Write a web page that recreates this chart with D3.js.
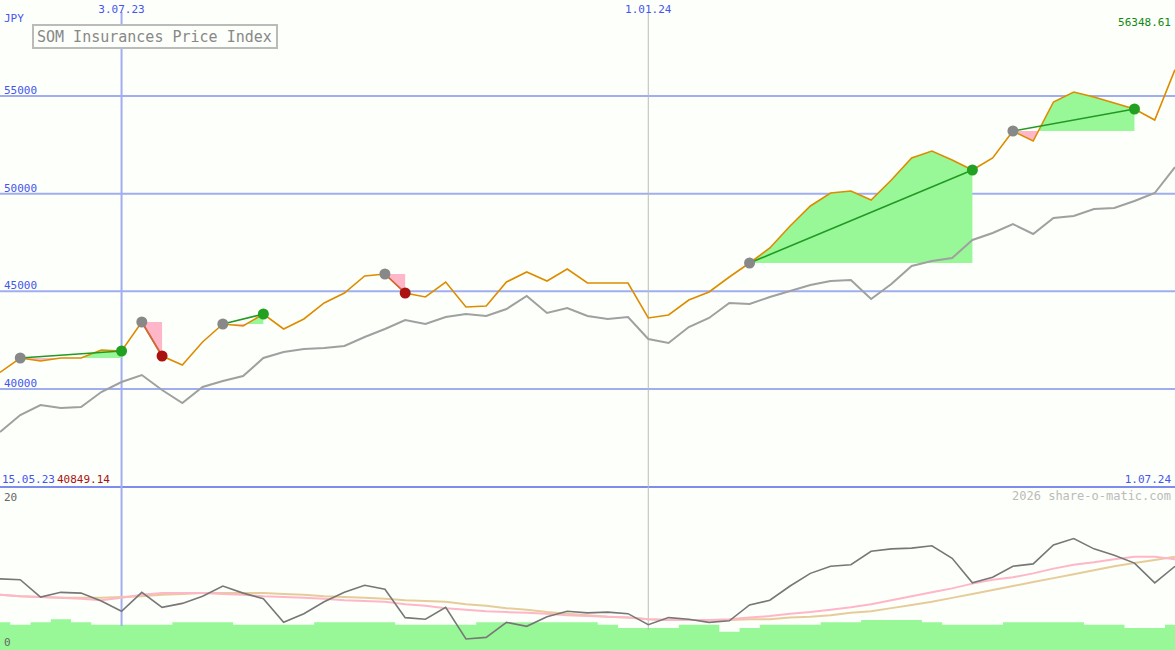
<!DOCTYPE html>
<html><head><meta charset="utf-8">
<script src="https://cdn.jsdelivr.net/npm/d3@7"></script>
<style>body{margin:0;background:#fdfffa}svg{display:block}text{font-family:"DejaVu Sans Mono",monospace}</style>
</head><body><svg id="c" width="1175" height="650"></svg>
<script>
const priceY=[372,358,361,358,358,350,351,322,356,365,342,324,326,314,329,319,303,293,276,274,293,297,282,307,306,282,272,281,269,283,283,283,318,315,300,292,277,263,248,226,206,193,191,200,180,158,151,160,170,158,131,141,102,92,97,103,109,120,72];
const avgY=[432,415,405,408,407,392,382,375,390,403,387,381,376,358,352,349,348,346,337,329,320,324,317,314,316,309,296,313,308,316,319,317,339,343,327,318,303,304,297,291,285,281,280,299,284,266,261,258,240,233,224,234,218,216,209,208,201,193,167];
const toV=y=>Math.round(55000-(y-96)*15000/293);
const price=priceY.map(toV); price[0]=40849.14; price[58]=56348.61;
const avg=avgY.map(toV);
const oscY=[579,580,597,592,593,601,611,592,607,603,596,586,593,599,622,614,602,592,585,589,618,619,607,639,637,622,626,617,611,613,612,614,625,618,619,622,621,605,600,586,573,566,565,551,549,548,546,558,583,577,566,564,545,539,549,555,563,583,566];
const pinkY=[595,596,597,598,599,600,598,595,593,593,593,594,595,596,597,598,599,600,601,602,604,606,608,610,611,612,613,614,615,616,617,618,619,620,620,620,619,618,616,614,612,610,607,604,600,596,592,588,584,580,577,573,569,565,562,559,557,557,559];
const tanY=[595,596,597,598,598,598,597,596,595,594,593,593,593,593,594,595,596,597,598,599,600,601,602,604,606,608,610,612,614,615,617,618,619,620,620,620,620,619,619,618,617,615,613,611,608,605,602,598,594,590,586,582,578,574,570,566,563,560,557];
const volY=[622,625,622,619,622,625,625,625,625,622,622,622,625,625,625,625,622,622,622,622,625,625,625,625,622,622,622,622,622,622,625,628,628,628,625,625,632,628,625,625,625,622,622,620,620,620,622,625,625,625,622,622,622,622,625,625,628,628,625,625];
const toO=y=>+((650-y)/7.9).toFixed(1);
const osc=oscY.map(toO), oscFast=pinkY.map(toO), oscSlow=tanY.map(toO), vol=volY.map(toO);
const trades=[[1,6],[7,8],[11,13],[19,20],[37,48],[50,56]];
const xLabels=[{i:6,t:"3.07.23"},{i:32,t:"1.01.24"}];
const yTicks=[40000,45000,50000,55000];

const svg=d3.select("#c");
const x=d3.scaleLinear().domain([0,58]).range([0,1175]);
const y=d3.scaleLinear().domain([40000,55000]).range([389,96]);
const yo=d3.scaleLinear().domain([0,20]).range([650,492]);
svg.append("rect").attr("width",1175).attr("height",650).attr("fill","#fdfffa");
svg.append("path").datum(vol).attr("fill","#98f898")
 .attr("d",d3.area().curve(d3.curveStepAfter).x((d,i)=>x(i)-10).y0(650).y1(d=>yo(d)));
yTicks.forEach(v=>svg.append("line").attr("x1",0).attr("x2",1175).attr("y1",y(v)).attr("y2",y(v)).attr("stroke","#a0aef0").attr("stroke-width",2));
svg.append("line").attr("x1",0).attr("x2",1175).attr("y1",487).attr("y2",487).attr("stroke","#7f8cee").attr("stroke-width",2);
svg.append("line").attr("x1",x(6)).attr("x2",x(6)).attr("y1",12).attr("y2",626).attr("stroke","#a0aef0").attr("stroke-width",2);
svg.append("line").attr("x1",x(32)).attr("x2",x(32)).attr("y1",12).attr("y2",630).attr("stroke","#bbbbbb").attr("stroke-width",1);
const defs=svg.append("defs");
trades.forEach(([a,b],k)=>{
  const e=price[a], seg=d3.range(a,b+1);
  const ar=d3.area().x(i=>x(i)).y0(y(e)).y1(i=>y(price[i]));
  defs.append("clipPath").attr("id","up"+k).append("rect").attr("x",0).attr("width",1175).attr("y",0).attr("height",y(e));
  defs.append("clipPath").attr("id","dn"+k).append("rect").attr("x",0).attr("width",1175).attr("y",y(e)).attr("height",650);
  svg.append("path").datum(seg).attr("d",ar).attr("fill","#98f898").attr("clip-path",`url(#up${k})`);
  svg.append("path").datum(seg).attr("d",ar).attr("fill","#ffb6c8").attr("clip-path",`url(#dn${k})`);
});
const ln=d3.line().x((d,i)=>x(i)).y(d=>y(d));
svg.append("path").datum(avg).attr("d",ln).attr("fill","none").attr("stroke","#a0a0a0").attr("stroke-width",2);
svg.append("path").datum(price).attr("d",ln).attr("fill","none").attr("stroke","#dd8c00").attr("stroke-width",1.6);
trades.forEach(([a,b])=>{
  const win=price[b]>price[a];
  svg.append("line").attr("x1",x(a)).attr("y1",y(price[a])).attr("x2",x(b)).attr("y2",y(price[b])).attr("stroke",win?"#229922":"#cc6644").attr("stroke-width",1.6);
  svg.append("circle").attr("cx",x(a)).attr("cy",y(price[a])).attr("r",5.5).attr("fill","#888");
  svg.append("circle").attr("cx",x(b)).attr("cy",y(price[b])).attr("r",5.5).attr("fill",win?"#22a022":"#aa1111");
});
const lo=d3.line().x((d,i)=>x(i)).y(d=>yo(d));
svg.append("path").datum(oscSlow).attr("d",lo).attr("fill","none").attr("stroke","#e6cc9a").attr("stroke-width",2);
svg.append("path").datum(oscFast).attr("d",lo).attr("fill","none").attr("stroke","#ffb6c8").attr("stroke-width",2);
svg.append("path").datum(osc).attr("d",lo).attr("fill","none").attr("stroke","#777").attr("stroke-width",1.6);
const T=(x0,y0,t,c,anchor,fs)=>svg.append("text").attr("x",x0).attr("y",y0).text(t).attr("fill",c).attr("font-size",fs||11).attr("text-anchor",anchor||"start");
yTicks.forEach(v=>T(4,y(v)-2,v,"#4455ee"));
xLabels.forEach(d=>T(x(d.i),13,d.t,"#4455ee","middle"));
T(4,22,"JPY","#4455ee");
T(2,483,"15.05.23","#4455ee"); T(57,483,"40849.14","#aa1111");
T(1171,483,"1.07.24","#4455ee","end");
T(1171,26,"56348.61","#118811","end");
T(1171,500,"2026 share-o-matic.com","#bbbbbb","end",12);
T(4,501,"20","#666"); T(4,646,"0","#666");
svg.append("rect").attr("x",33).attr("y",25).attr("width",244).attr("height",23).attr("fill","#fdfffa").attr("stroke","#bbbbbb").attr("stroke-width",2);
T(37,42,"SOM Insurances Price Index","#888","start",15);
</script></body></html>
